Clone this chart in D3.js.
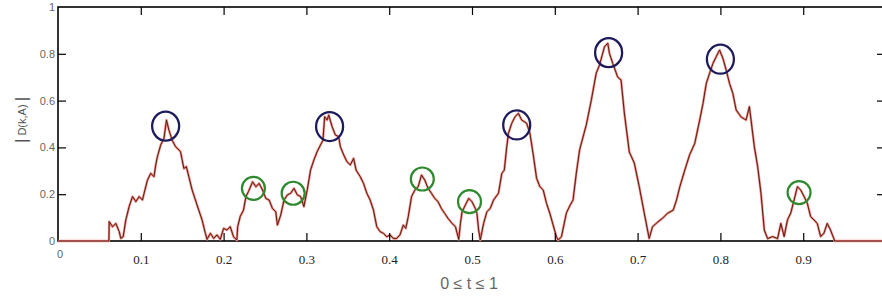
<!DOCTYPE html>
<html>
<head>
<meta charset="utf-8">
<script src="https://cdn.jsdelivr.net/npm/d3@7"></script>
<style>
body{margin:0;background:#fff;}
</style>
</head>
<body>
<script>
var w=882;
var h=298;

// t positions (0..1) and |D(k,A)| values
var tValues=[0,0.0615,0.0618,0.0659,0.0699,0.0739,0.0759,0.0787,0.0819,0.0859,0.090,0.094,0.098,0.102,0.104,0.108,0.112,0.116,0.118,0.120,0.124,0.128,0.131,0.134,0.138,0.142,0.148,0.152,0.155,0.158,0.162,0.166,0.170,0.174,0.178,0.180,0.184,0.188,0.192,0.196,0.200,0.204,0.208,0.212,0.216,0.217,0.220,0.224,0.227,0.230,0.235,0.239,0.243,0.247,0.251,0.255,0.259,0.263,0.265,0.269,0.273,0.277,0.281,0.285,0.289,0.293,
	0.297,0.301,0.305,0.309,0.313,0.317,0.320,0.322,0.325,0.327,0.331,0.335,0.339,0.341,0.345,0.349,0.353,0.357,0.360,0.365,0.369,0.373,0.377,0.381,0.385,0.389,0.393,0.397,0.401,0.405,0.409,0.413,0.417,0.420,0.423,0.427,0.431,0.435,0.439,0.443,0.447,0.451,0.455,0.459,0.463,0.467,0.471,0.476,0.480,0.484,0.486,0.488,0.492,0.496,0.500,0.504,0.506,0.508,0.510,0.514,0.518,0.522,0.526,0.532,0.536,0.539,0.542,0.544,0.548,0.552,0.556,0.560,0.566,0.570,0.574,0.578,0.582,0.586,0.590,0.594,0.598,0.602,0.604,
	0.608,0.614,0.618,0.622,0.626,0.630,0.638,0.644,0.650,0.654,0.660,0.664,0.666,0.670,0.676,0.680,0.684,0.690,0.696,0.702,0.708,0.714,0.718,0.724,0.730,0.736,0.743,0.747,0.751,0.757,0.763,0.769,0.775,0.779,0.783,0.787,0.791,0.795,0.799,0.803,0.807,0.811,0.815,0.819,0.825,0.831,0.835,0.837,0.841,0.845,0.849,0.853,0.857,0.863,0.869,0.873,0.877,0.881,0.885,0.889,0.893,0.897,0.901,0.905,0.909,0.913,0.917,0.921,0.925,0.929,0.933,0.937,0.938,1];

var dValues=[0,0,0.083,0.061,0.075,0.04,0.011,0.018,0.09,0.147,0.19,0.168,0.19,0.175,0.204,0.26,0.289,0.275,0.325,0.36,0.41,0.439,0.517,0.474,0.43,0.403,0.382,0.31,0.318,0.275,0.218,0.175,0.132,0.09,0.033,0.007,0.033,0.011,0.026,0.007,0.054,0.047,0.061,0.018,0.004,0.061,0.104,0.132,0.19,0.211,0.253,0.232,0.246,0.218,0.182,0.175,0.139,0.125,0.068,0.111,0.175,0.197,0.204,0.225,0.197,0.19,
	0.147,0.218,0.303,0.346,0.382,0.41,0.43,0.531,0.517,0.538,0.489,0.453,0.446,0.403,0.368,0.339,0.325,0.353,0.303,0.275,0.246,0.204,0.175,0.132,0.061,0.04,0.033,0.018,0.026,0.011,0.011,0.026,0.068,0.054,0.104,0.19,0.218,0.232,0.282,0.26,0.225,0.204,0.182,0.168,0.139,0.118,0.097,0.075,0.061,0.007,0.075,0.125,0.154,0.182,0.168,0.139,0.118,0.047,0.004,0.075,0.125,0.139,0.175,0.204,0.289,0.303,0.403,0.46,0.503,0.531,0.546,0.517,0.503,0.46,0.368,0.268,0.232,0.218,0.161,0.118,0.068,0.018,0.004,
	0.018,0.12,0.15,0.175,0.29,0.39,0.496,0.6,0.717,0.752,0.83,0.845,0.802,0.759,0.70,0.688,0.547,0.38,0.333,0.232,0.12,0.011,0.061,0.08,0.097,0.118,0.132,0.175,0.232,0.303,0.37,0.417,0.517,0.588,0.674,0.717,0.759,0.788,0.816,0.781,0.73,0.674,0.631,0.56,0.53,0.517,0.574,0.517,0.403,0.318,0.204,0.047,0.01,0.019,0.01,0.075,0.019,0.09,0.12,0.175,0.232,0.218,0.19,0.161,0.104,0.09,0.075,0.019,0.033,0.075,0.047,0.01,0,0];

// marked peaks
var bluePeakT=[0.130,0.328,0.554,0.665,0.800];
var bluePeakV=[0.491,0.489,0.496,0.805,0.777];
var greenPeakT=[0.236,0.284,0.440,0.497,0.895];
var greenPeakV=[0.225,0.204,0.265,0.168,0.207];

var xTicks=[0.1,0.2,0.3,0.4,0.5,0.6,0.7,0.8,0.9];
var yTicks=[0,0.2,0.4,0.6,0.8,1];
var yTickLabels=["0","0.2","0.4","0.6","0.8","1"];

var xScale=d3.scaleLinear()
				.domain([0,1])
				.range([58,886]);

var yScale=d3.scaleLinear()
				.domain([0,1])
				.range([241,7]);

var svg=d3.select("body")
			.append("svg")
			.attr("width",w)
			.attr("height",h)
			.style("display","block");

var points=d3.range(tValues.length).map(function(i){
	return [tValues[i],dValues[i]];
});

var line=d3.line()
			.x(function(d){return xScale(d[0]);})
			.y(function(d){return yScale(d[1]);});

// frame box
svg.append("rect")
	.attr("x",xScale(0))
	.attr("y",yScale(1))
	.attr("width",xScale(1)-xScale(0))
	.attr("height",yScale(0)-yScale(1))
	.attr("fill","none")
	.attr("stroke","#000")
	.attr("stroke-width",1.6);

// the signal: soft red edge with a dark core
svg.append("path")
	.datum(points)
	.attr("d",line)
	.attr("fill","none")
	.attr("stroke","#ec8a80")
	.attr("stroke-width",2.4)
	.attr("stroke-linejoin","round");

svg.append("path")
	.datum(points)
	.attr("d",line)
	.attr("fill","none")
	.attr("stroke","#5a1c16")
	.attr("stroke-width",1)
	.attr("stroke-linejoin","round");

svg.selectAll("ellipse.blue")
	.data(bluePeakT)
	.enter()
	.append("ellipse")
	.attr("class","blue")
	.attr("cx",function(d){return xScale(d);})
	.attr("cy",function(d,i){return yScale(bluePeakV[i]);})
	.attr("rx",13.5)
	.attr("ry",14.5)
	.attr("fill","none")
	.attr("stroke","#1d1b5c")
	.attr("stroke-width",2.3);

svg.selectAll("ellipse.green")
	.data(greenPeakT)
	.enter()
	.append("ellipse")
	.attr("class","green")
	.attr("cx",function(d){return xScale(d);})
	.attr("cy",function(d,i){return yScale(greenPeakV[i]);})
	.attr("rx",11.5)
	.attr("ry",11.5)
	.attr("fill","none")
	.attr("stroke","#2f8a2f")
	.attr("stroke-width",2.2);

// inward ticks on all four sides
svg.append("g")
	.attr("transform","translate(0,7)")
	.call(d3.axisTop(xScale).tickValues(xTicks).tickSizeInner(-8).tickSizeOuter(0).tickFormat(""));

svg.append("g")
	.attr("transform","translate(886,0)")
	.call(d3.axisRight(yScale).tickValues([0.2,0.4,0.6,0.8]).tickSizeInner(-9).tickSizeOuter(0).tickFormat(""));

var xAxis=svg.append("g")
	.attr("transform","translate(0,241)")
	.call(d3.axisBottom(xScale).tickValues(xTicks).tickSizeInner(-8).tickSizeOuter(0).tickPadding(14).tickFormat(d3.format(".1f")));

xAxis.selectAll("text")
	.attr("font-family","'Liberation Serif','DejaVu Serif',serif")
	.attr("font-size",13)
	.attr("fill","#222");

var yAxis=svg.append("g")
	.attr("transform","translate(58,0)")
	.call(d3.axisLeft(yScale).tickValues(yTicks).tickSizeInner(-8).tickSizeOuter(0).tickPadding(3)
		.tickFormat(function(d,i){return yTickLabels[i];}));

yAxis.selectAll("text")
	.attr("font-family","'Liberation Sans',Arial,sans-serif")
	.attr("font-size",11)
	.attr("fill","#666");

yAxis.selectAll(".tick line").filter(function(d){return d===0||d===1;}).remove();
svg.selectAll(".domain").remove();

svg.selectAll(".tick line")
	.attr("stroke","#000")
	.attr("stroke-width",1.2);

// the lone 0 under the origin
svg.append("text")
	.attr("x",xScale(0)+2)
	.attr("y",258)
	.attr("text-anchor","middle")
	.attr("font-family","'Liberation Sans',Arial,sans-serif")
	.attr("font-size",11)
	.attr("fill","#666")
	.text("0");

// axis titles
svg.append("text")
	.attr("x",469)
	.attr("y",289)
	.attr("text-anchor","middle")
	.attr("font-family","'Liberation Sans',Arial,sans-serif")
	.attr("font-size",16)
	.attr("fill","#666")
	.text("0 \u2264 t \u2264 1");

var yTitle=svg.append("text")
	.attr("transform","translate(26,120) rotate(-90)")
	.attr("text-anchor","middle")
	.attr("font-family","'Liberation Sans',Arial,sans-serif")
	.attr("fill","#555");

yTitle.append("tspan").attr("font-size",17).attr("dy","1").text("|");
yTitle.append("tspan").attr("font-size",11).attr("dy","-1").text(" D(k,A) ");
yTitle.append("tspan").attr("font-size",17).attr("dy","1").text("|");
</script>
</body>
</html>
